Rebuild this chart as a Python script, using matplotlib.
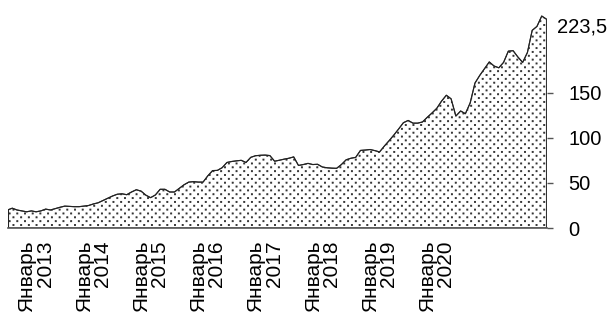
import matplotlib
matplotlib.use("Agg")
import matplotlib.pyplot as plt
import matplotlib.transforms as mtransforms
import matplotlib.hatch as mhatch
from matplotlib.path import Path
import numpy as np

# months since January 2013 (July 2012 .. December 2021)
months = list(range(-6, 108))
values = [
    20, 22, 20, 19, 18, 19,                       # Jul-Dec 2012
    18, 19, 21, 20, 21.5, 23, 24.3, 24, 23.7, 23.7, 24.3, 25,        # 2013
    26.7, 28, 30.5, 33, 35.5, 37.5, 38, 37, 40, 42.5, 41, 36.5,      # 2014
    33.7, 36.7, 43, 43, 40, 40, 44, 48, 51, 51.5, 51, 51,            # 2015
    58, 63.8, 64, 67, 72.8, 73.9, 74.6, 75.2, 72.8, 78.5, 80.3, 80.8,  # 2016
    81, 80.5, 74.2, 75.3, 76.5, 77.5, 79, 69.5, 70.5, 71.8, 70.5, 70.8,  # 2017
    67.8, 66.9, 66.5, 66.3, 70.5, 75.8, 77.5, 78.5, 86.2, 86.6, 87.2, 86,  # 2018
    84.5, 91, 97, 103.3, 110, 117, 119.5, 116.5, 116.5, 117.8, 123, 127.8,  # 2019
    133, 141, 147.5, 143.5, 124.4, 130, 127, 139, 161, 169.5, 177, 184.5,  # 2020
    180, 178, 184, 196.5, 197, 190, 184, 195, 219.6, 224, 235.5, 232,  # 2021
]
years = [2013, 2014, 2015, 2016, 2017, 2018, 2019, 2020]
xtick_labels = [f"Январь\n{y}" for y in years]
ytick_values = [0, 50, 100, 150]
ytick_labels = ["0", "50", "100", "150"]
last_label_value = 223.5
last_label_text = "223,5"


class StaggeredDots(mhatch.HatchPatternBase):
    """Small square dots in staggered rows (used for the '.' hatch)."""
    NROWS = 26
    NCOLS = 13
    HALF = 0.0055

    def __init__(self, hatch, density):
        self.on = '.' in hatch
        self.num_vertices = self.NROWS * self.NCOLS * 5 if self.on else 0

    def set_vertices_and_codes(self, vertices, codes):
        h = self.HALF
        k = 0
        for i in range(self.NROWS):
            yc = (i + 0.5) / self.NROWS
            shift = 0.25 if i % 2 == 0 else 0.75
            for j in range(self.NCOLS):
                xc = (j + shift) / self.NCOLS
                vertices[k:k + 5] = [[xc - h, yc - h], [xc + h, yc - h],
                                     [xc + h, yc + h], [xc - h, yc + h],
                                     [xc - h, yc - h]]
                codes[k:k + 5] = [Path.MOVETO, Path.LINETO, Path.LINETO,
                                  Path.LINETO, Path.CLOSEPOLY]
                k += 5


mhatch._hatch_types = [t for t in mhatch._hatch_types
                       if t is not mhatch.SmallFilledCircles] + [StaggeredDots]

plt.rcParams['font.family'] = ['Liberation Sans', 'DejaVu Sans']
plt.rcParams['hatch.linewidth'] = 0.6

fig = plt.figure(figsize=(6.12, 3.16), dpi=100)
ax = fig.add_axes([7.5 / 612, 88 / 316, 539 / 612, (228 - 7.5) / 316])

x = np.array(months)
y = np.array(values)
ax.fill_between(x, 0, y, facecolor='white', edgecolor='#333333',
                hatch='.', linewidth=0.8)
ax.plot([x[0], x[0]], [0, y[0]], color='#222222', lw=0.8)
ax.plot([x[-1], x[-1]], [0, y[-1]], color='#222222', lw=0.8)
ax.plot(x, y, color='#222222', lw=0.8)

ax.set_xlim(-6, 107)
ax.set_ylim(0, 245)

for s in ['top', 'left', 'right']:
    ax.spines[s].set_visible(False)
ax.spines['bottom'].set_color('#555555')
ax.spines['bottom'].set_linewidth(1.2)

ax.set_xticks([(yy - 2013) * 12 for yy in years])
ax.set_xticklabels(xtick_labels, rotation=90, ha='center', va='top',
                   multialignment='right', fontsize=15, linespacing=0.95)
ax.tick_params(axis='x', length=0, pad=9)

ax.yaxis.tick_right()
ax.set_yticks(ytick_values)
ax.set_yticklabels(ytick_labels, fontsize=14.5)
ax.tick_params(axis='y', length=4.5, width=1, color='#555555', pad=11)

trans = mtransforms.blended_transform_factory(ax.transAxes, ax.transData)
ax.text(1.0 + 11 / 539, last_label_value, last_label_text, transform=trans,
        ha='left', va='center', fontsize=14.5)

fig.savefig("out.png", dpi=100)
